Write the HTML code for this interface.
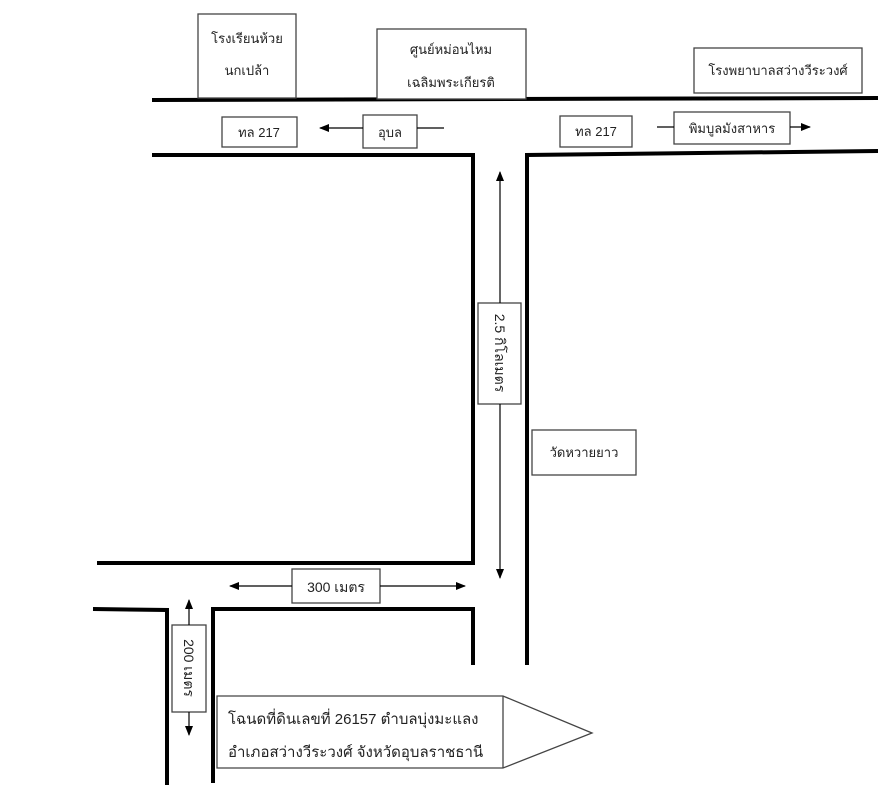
<!DOCTYPE html>
<html><head><meta charset="utf-8"><style>
html,body{margin:0;padding:0;background:#fff;}
svg{display:block;}
text{font-family:"Liberation Sans","Noto Sans CJK SC",sans-serif;fill:#222;}
</style></head><body>
<svg width="878" height="800" viewBox="0 0 878 800" xmlns="http://www.w3.org/2000/svg">
<defs>
<marker id="a" markerWidth="10" markerHeight="10" refX="9" refY="5" orient="auto" markerUnits="userSpaceOnUse">
<path d="M0,1 L10,5 L0,9 Z" fill="#000"/></marker>
</defs>
<g stroke="#000" stroke-width="4" fill="none">
<line x1="152" y1="100" x2="878" y2="98"/>
<polyline points="152,155 473,155 473,563 97,563"/>
<polyline points="878,151 527,155 527,665"/>
<polyline points="93,609 167,610 167,785"/>
<polyline points="213,783 213,609 473,609 473,665"/>
</g>
<g stroke="#444" stroke-width="1.3" fill="#fff">
<rect x="198" y="14" width="98" height="84"/>
<rect x="377" y="29" width="149" height="70"/>
<rect x="694" y="48" width="168" height="45"/>
<rect x="222" y="117" width="75" height="30"/>
<rect x="363" y="115" width="54" height="33"/>
<rect x="560" y="116" width="72" height="31"/>
<rect x="674" y="112" width="116" height="32"/>
<rect x="478" y="303" width="43" height="101"/>
<rect x="532" y="430" width="104" height="45"/>
<rect x="292" y="569" width="88" height="34"/>
<rect x="172" y="625" width="34" height="87"/>
<path d="M217,696 L503,696 L592,733 L503,768 L217,768 Z"/>
<line x1="503" y1="696" x2="503" y2="768"/>
</g>
<g stroke="#000" stroke-width="1.2" fill="none">
<line x1="363" y1="128" x2="320" y2="128" marker-end="url(#a)"/>
<line x1="417" y1="128" x2="444" y2="128"/>
<line x1="657" y1="127" x2="674" y2="127"/>
<line x1="790" y1="127" x2="810" y2="127" marker-end="url(#a)"/>
<line x1="500" y1="303" x2="500" y2="172" marker-end="url(#a)"/>
<line x1="500" y1="404" x2="500" y2="578" marker-end="url(#a)"/>
<line x1="292" y1="586" x2="230" y2="586" marker-end="url(#a)"/>
<line x1="380" y1="586" x2="465" y2="586" marker-end="url(#a)"/>
<line x1="189" y1="625" x2="189" y2="600" marker-end="url(#a)"/>
<line x1="189" y1="712" x2="189" y2="735" marker-end="url(#a)"/>
</g>
<g font-size="13">
<text x="247" y="43" text-anchor="middle">โรงเรียนห้วย</text>
<text x="247" y="75" text-anchor="middle">นกเปล้า</text>
<text x="451" y="54" text-anchor="middle">ศูนย์หม่อนไหม</text>
<text x="451" y="87" text-anchor="middle">เฉลิมพระเกียรติ</text>
<text x="778" y="75" text-anchor="middle">โรงพยาบาลสว่างวีระวงศ์</text>
<text x="259" y="137" text-anchor="middle">ทล 217</text>
<text x="390" y="137" text-anchor="middle">อุบล</text>
<text x="596" y="136" text-anchor="middle">ทล 217</text>
<text x="732" y="133" text-anchor="middle">พิมบูลมังสาหาร</text>
<text x="584" y="457" text-anchor="middle">วัดหวายยาว</text>
<text x="336" y="592" text-anchor="middle" font-size="14">300 เมตร</text>
<text transform="translate(495,353) rotate(90)" text-anchor="middle" font-size="14">2.5 กิโลเมตร</text>
<text transform="translate(184,668) rotate(90)" text-anchor="middle" font-size="14">200 เมตร</text>
<text x="228" y="724" font-size="15">โฉนดที่ดินเลขที่ 26157 ตำบลบุ่งมะแลง</text>
<text x="228" y="757" font-size="15">อำเภอสว่างวีระวงศ์ จังหวัดอุบลราชธานี</text>
</g>
</svg>
</body></html>
